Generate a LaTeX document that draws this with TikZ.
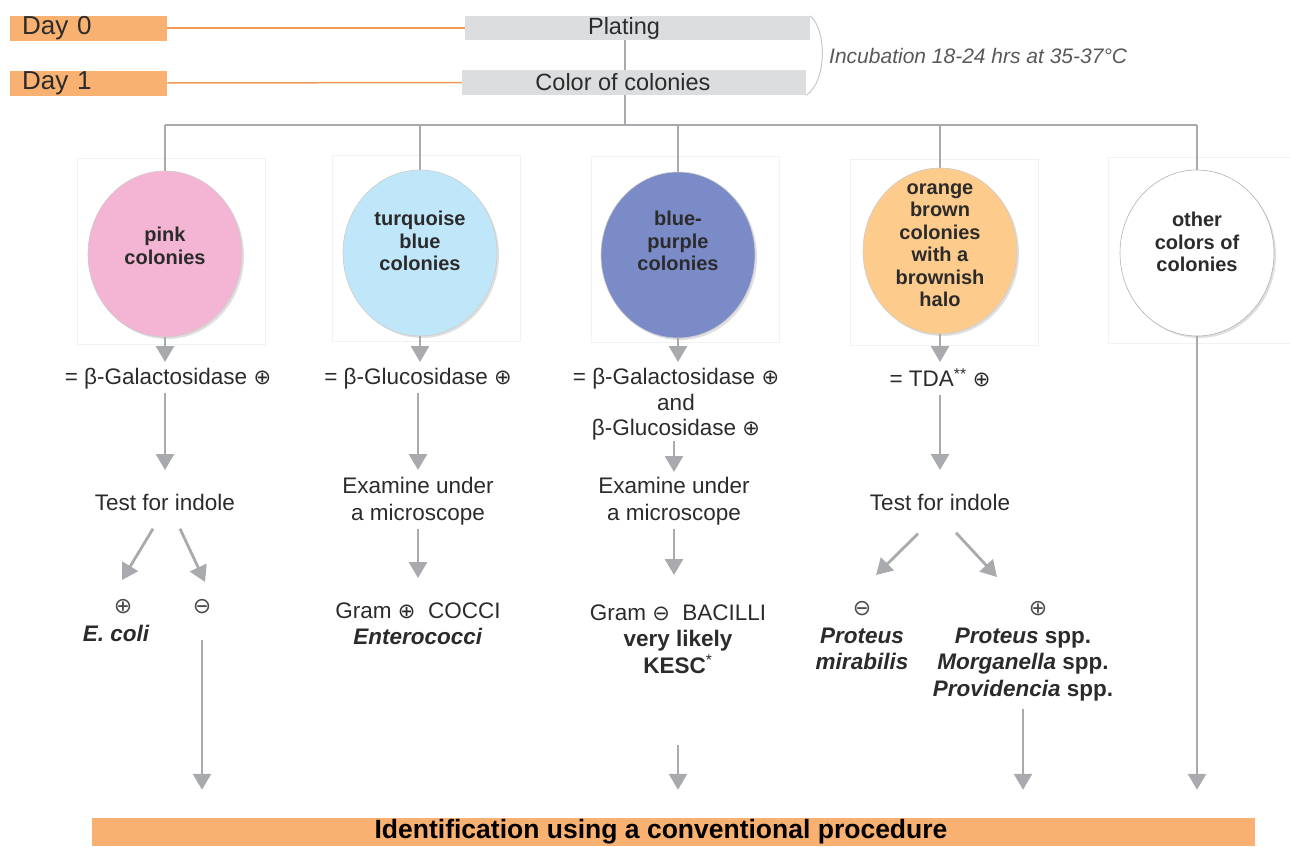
\documentclass[tikz,border=0pt]{standalone}
\usepackage{fontspec}
\setmainfont{Liberation Sans}
\newfontfamily\symfont{DejaVu Sans}
\usetikzlibrary{arrows.meta,shapes.geometric,shadows}
\definecolor{orng}{HTML}{F9B172}
\definecolor{lineor}{HTML}{F29A55}
\definecolor{boxgray}{HTML}{DCDDDF}
\definecolor{arr}{HTML}{A8AAAD}
\definecolor{pinkc}{HTML}{F4B5D4}
\definecolor{turq}{HTML}{C0E6F9}
\definecolor{bpur}{HTML}{7A8BC7}
\definecolor{orc}{HTML}{FDCB8C}
\definecolor{txt}{HTML}{2B2B2B}
\definecolor{incg}{HTML}{58595B}
\newcommand{\pos}{{\symfont\fontsize{21}{21}\selectfont ⊕}}
\newcommand{\negs}{{\symfont\fontsize{21}{21}\selectfont ⊖}}
\newcommand{\ls}{\rule[-5pt]{0pt}{21pt}}
\begin{document}
\begin{tikzpicture}[x=1pt,y=-1pt,
  con/.style={draw=arr,line width=2.8pt},
  arw/.style={con,-{Triangle[width=18pt,length=16pt]}},
  lbl/.style={font=\fontsize{22.5}{26.5}\selectfont,text=txt,align=center,inner sep=0pt,anchor=north},
  sym/.style={font=\symfont\fontsize{22}{22}\selectfont,text=txt!85,inner sep=0pt},
  colony/.style={ellipse,minimum width=154pt,minimum height=166pt,inner sep=0pt,draw=black!20,line width=0.6pt,drop shadow={shadow xshift=2pt,shadow yshift=-2pt,opacity=0.25}},
  ctext/.style={font=\bfseries\fontsize{20}{22.5}\selectfont,align=center,text=txt,inner sep=0pt},
  halo/.style={draw=black!5,line width=0.8pt,minimum width=188pt,minimum height=186pt,inner sep=0pt},
  daybox/.style={fill=orng,minimum height=25pt,text width=133pt,inner xsep=12pt,inner ysep=0pt,anchor=west,font=\fontsize{26}{26}\selectfont,align=left,text=txt},
  stepbox/.style={fill=boxgray,minimum height=24pt,inner sep=0pt},
  steptext/.style={font=\fontsize{23.5}{23.5}\selectfont,text=txt,inner sep=0pt}
]
\useasboundingbox (0,0) rectangle (1290,846);

% top
\node[daybox] (d0) at (10,28) {Day 0};
\node[daybox] (d1) at (10,83) {Day 1};
\node[stepbox,minimum width=345pt] (pl) at (637.5,28) {};
\node[stepbox,minimum width=344pt,minimum height=25pt] (col) at (634,82.5) {};
\node[steptext] (plt) at (624,28) {Plating};
\node[steptext] (colt) at (623,82.5) {Color of colonies};
\draw[lineor,line width=1.5pt] (d0.east) -- (pl.west);
\draw[lineor,line width=1.5pt] (d1.east) -- (col.west);
\draw[black!22,line width=1pt] (pl.north east) .. controls (827,30) and (827,82) .. (col.south east);
\node[anchor=west,font=\itshape\fontsize{21}{21}\selectfont,text=incg,inner sep=0pt] (inc) at (829,56) {Incubation 18-24 hrs at 35-37°C};

\coordinate (trunk) at (625,125);
\draw[con,line width=2pt] (pl.south -| trunk) -- (col.north -| trunk);
\draw[con] (col.south -| trunk) -- (trunk);

% faint panels
\node[halo] (h1) at (171,251) {};
\node[halo] (h2) at (426,248) {};
\node[halo] (h3) at (685,249) {};
\node[halo] (h4) at (944,252) {};
\node[halo] (h5) at (1202,250) {};

% colonies
\coordinate (c1p) at (165,254);
\coordinate (c2p) at (420,253);
\coordinate (c3p) at (678,255);
\coordinate (c4p) at (940,251);
\coordinate (c5p) at (1197,253);
\draw[con] (c1p |- trunk) -- (c5p |- trunk);
\foreach \n in {c1p,c2p,c3p,c4p,c5p} \draw[con] (\n |- trunk) -- (\n);

\node[colony,fill=pinkc] (c1) at (c1p) {};
\node[colony,fill=turq] (c2) at (c2p) {};
\node[colony,fill=bpur] (c3) at (c3p) {};
\node[colony,fill=orc] (c4) at (c4p) {};
\node[colony,fill=white,draw=black!30] (c5) at (c5p) {};
\node[ctext] (c1t) at (165,246) {pink\\colonies};
\node[ctext] (c2t) at (420,241) {turquoise\\blue\\colonies};
\node[ctext] (c3t) at (678,241) {blue-\\purple\\colonies};
\node[ctext] (c4t) at (940,245) {orange\\brown\\colonies\\with a\\brownish\\halo};
\node[ctext] (c5t) at (1197,242) {other\\colors of\\colonies};

% column 1
\node[lbl] (g1) at (168,368) {\ls= β-Galactosidase \pos};
\node[lbl] (t1) at (165,494) {\ls Test for indole};
\node[sym] (p1) at (123,607) {⊕};
\node[sym] (m1) at (202,607) {⊖};
\node[lbl,font=\bfseries\itshape\fontsize{22.5}{26.5}\selectfont] (e1) at (116,625) {\ls E. coli};

% column 2
\node[lbl] (g2) at (418,368) {\ls= β-Glucosidase \pos};
\node[lbl] (x2) at (418,477) {\ls Examine under\\\ls a microscope};
\node[lbl] (r2) at (418,602) {\ls Gram \pos\ \ COCCI\\\ls\textbf{\textit{Enterococci}}};

% column 3
\node[lbl,font=\fontsize{22.5}{25.5}\selectfont] (g3) at (676,368) {\ls= β-Galactosidase \pos\\\ls and\\\ls β-Glucosidase \pos};
\node[lbl] (x3) at (674,477) {\ls Examine under\\\ls a microscope};
\node[lbl] (r3) at (678,604) {\ls Gram \negs\ \ BACILLI\\\ls\textbf{very likely}\\\ls\textbf{KESC}\textsuperscript{*}};

% column 4
\node[lbl] (g4) at (940,368) {\ls= TDA\textsuperscript{**} \pos};
\node[lbl] (t4) at (940,494) {\ls Test for indole};
\node[sym] (m4) at (862,609) {⊖};
\node[sym] (p4) at (1038,609) {⊕};
\node[lbl,font=\bfseries\itshape\fontsize{22.5}{26.5}\selectfont] (n4) at (862,627) {\ls Proteus\\\ls mirabilis};
\node[lbl,font=\bfseries\fontsize{22.5}{26.5}\selectfont] (s4) at (1023,627) {\ls\textit{Proteus} spp.\\\ls\textit{Morganella} spp.\\\ls\textit{Providencia} spp.};

% bottom bar
\node[fill=orng,minimum width=1163pt,minimum height=28pt,inner sep=0pt] (bar) at (673.5,832) {};
\node[font=\bfseries\fontsize{26.5}{26.5}\selectfont,text=black,inner sep=0pt] (bart) at (661,832) {Identification using a conventional procedure};

% arrows column 1
\draw[arw,shorten >=6pt] (c1.south) -- (c1.south |- g1.north);
\draw[arw,shorten <=3pt,shorten >=24pt] (g1.south -| t1.north) -- (t1.north);
\draw[arw] ([shift={(-12,13)}]t1.south) -- ([shift={(-1,-27)}]p1.center);
\draw[arw] ([shift={(15,13)}]t1.south) -- ([shift={(3,-25)}]m1.center);
\draw[arw,shorten >=28pt] ([shift={(0,33)}]m1.center) -- (m1.center |- bar.north);

% arrows column 2
\draw[arw,shorten >=6pt] (c2.south) -- (c2.south |- g2.north);
\draw[arw,shorten <=3pt,shorten >=7pt] (g2.south) -- (x2.north);
\draw[arw,shorten <=3.5pt,shorten >=24pt] (x2.south) -- (r2.north);

% arrows column 3
\draw[arw,shorten >=6pt] (c3.south) -- (c3.south |- g3.north);
\draw[arw,shorten <=0.5pt,shorten >=5pt] (g3.south -| x3.north) -- (x3.north);
\draw[arw,shorten <=3.5pt,shorten >=29pt] (x3.south) -- (x3.south |- r3.north);
\draw[arw,shorten <=67pt,shorten >=28pt] (r3.south) -- (r3.south |- bar.north);

% arrows column 4
\draw[arw,shorten >=6pt] (c4.south) -- (c4.south |- g4.north);
\draw[arw,shorten <=3pt,shorten >=24pt] (g4.south) -- (t4.north);
\draw[arw] ([shift={(-22,18)}]t4.south) -- ([shift={(14,-34)}]m4.center);
\draw[arw] ([shift={(16,17)}]t4.south) -- ([shift={(-41,-32)}]p4.center);
\draw[arw,shorten <=8pt,shorten >=28pt] (s4.south) -- (s4.south |- bar.north);

% arrow column 5
\draw[arw,shorten >=28pt] (c5.south) -- (c5.south |- bar.north);
\end{tikzpicture}
\end{document}
